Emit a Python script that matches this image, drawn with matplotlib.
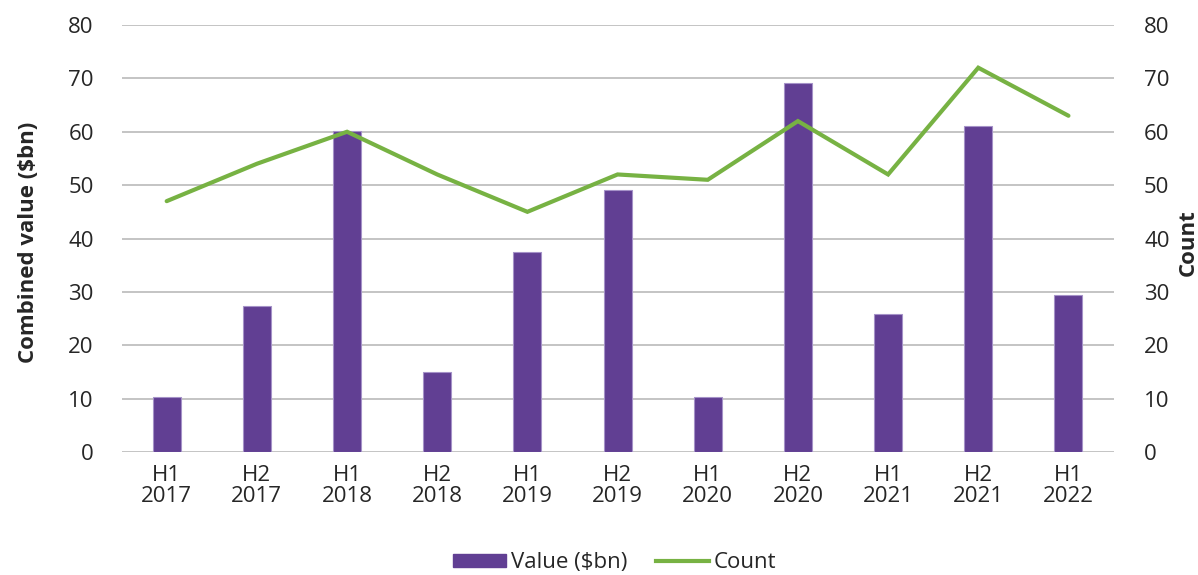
import matplotlib
matplotlib.use("Agg")
import matplotlib.pyplot as plt
import numpy as np
from matplotlib.patches import Patch
from matplotlib.lines import Line2D

periods = ["H1\n2017", "H2\n2017", "H1\n2018", "H2\n2018", "H1\n2019", "H2\n2019",
           "H1\n2020", "H2\n2020", "H1\n2021", "H2\n2021", "H1\n2022"]
value_bn = [10.3, 27.4, 60.2, 14.9, 37.5, 49.0, 10.3, 69.2, 25.9, 61.0, 29.4]
count = [47, 54, 60, 52, 45, 52, 51, 62, 52, 72, 63]
yticks = [0, 10, 20, 30, 40, 50, 60, 70, 80]

purple = "#613F93"
green = "#77B243"
grid = "#BFBFBF"
text = "#262626"

plt.rcParams['font.family'] = ['Open Sans', 'DejaVu Sans']

fig = plt.figure(figsize=(11.98, 5.75), dpi=100)
ax = fig.add_axes([0.1015, 0.2139, 0.828, 0.7426])
ax2 = ax.twinx()

x = np.arange(len(periods))
ax.bar(x, value_bn, width=0.31, color=purple, edgecolor="#A592C8", linewidth=0.8, zorder=2)
ax2.plot(x, count, color=green, linewidth=3.0, solid_capstyle="round", solid_joinstyle="miter", zorder=3)

for a in (ax, ax2):
    a.set_ylim(0, 80)
    a.set_yticks(yticks)
    for s in a.spines.values():
        s.set_visible(False)
    a.tick_params(length=0, labelsize=16, colors=text)
ax.set_xlim(-0.5, len(periods) - 0.5)
ax.set_xticks(x)
ax.set_xticklabels(periods, fontsize=16, color=text, linespacing=1.05)
ax.tick_params(axis='x', pad=9)
ax.tick_params(axis='y', pad=20)
ax2.tick_params(axis='y', pad=22)
ax.yaxis.grid(True, color=grid, linewidth=1.3, zorder=0)
ax.set_axisbelow(True)
ax.set_zorder(1)
ax2.set_zorder(2)
ax.patch.set_visible(False)

ax.set_ylabel("Combined value ($bn)", fontsize=16, fontweight="bold", color=text)
ax.yaxis.set_label_coords(-0.0835, 0.49)
ax2.set_ylabel("Count", fontsize=16, fontweight="bold", color=text, rotation=90)
ax2.yaxis.set_label_coords(1.0645, 0.49)

handles = [Patch(facecolor=purple, edgecolor=purple), Line2D([0], [0], color=green, lw=3)]
fig.legend(handles, ["Value ($bn)", "Count"], loc="lower center", bbox_to_anchor=(0.513, -0.032),
           ncol=2, frameon=False, fontsize=16, handlelength=2.4, handleheight=0.5,
           columnspacing=1.3, handletextpad=0.2, labelcolor=text)

fig.savefig("out.png", dpi=100)
